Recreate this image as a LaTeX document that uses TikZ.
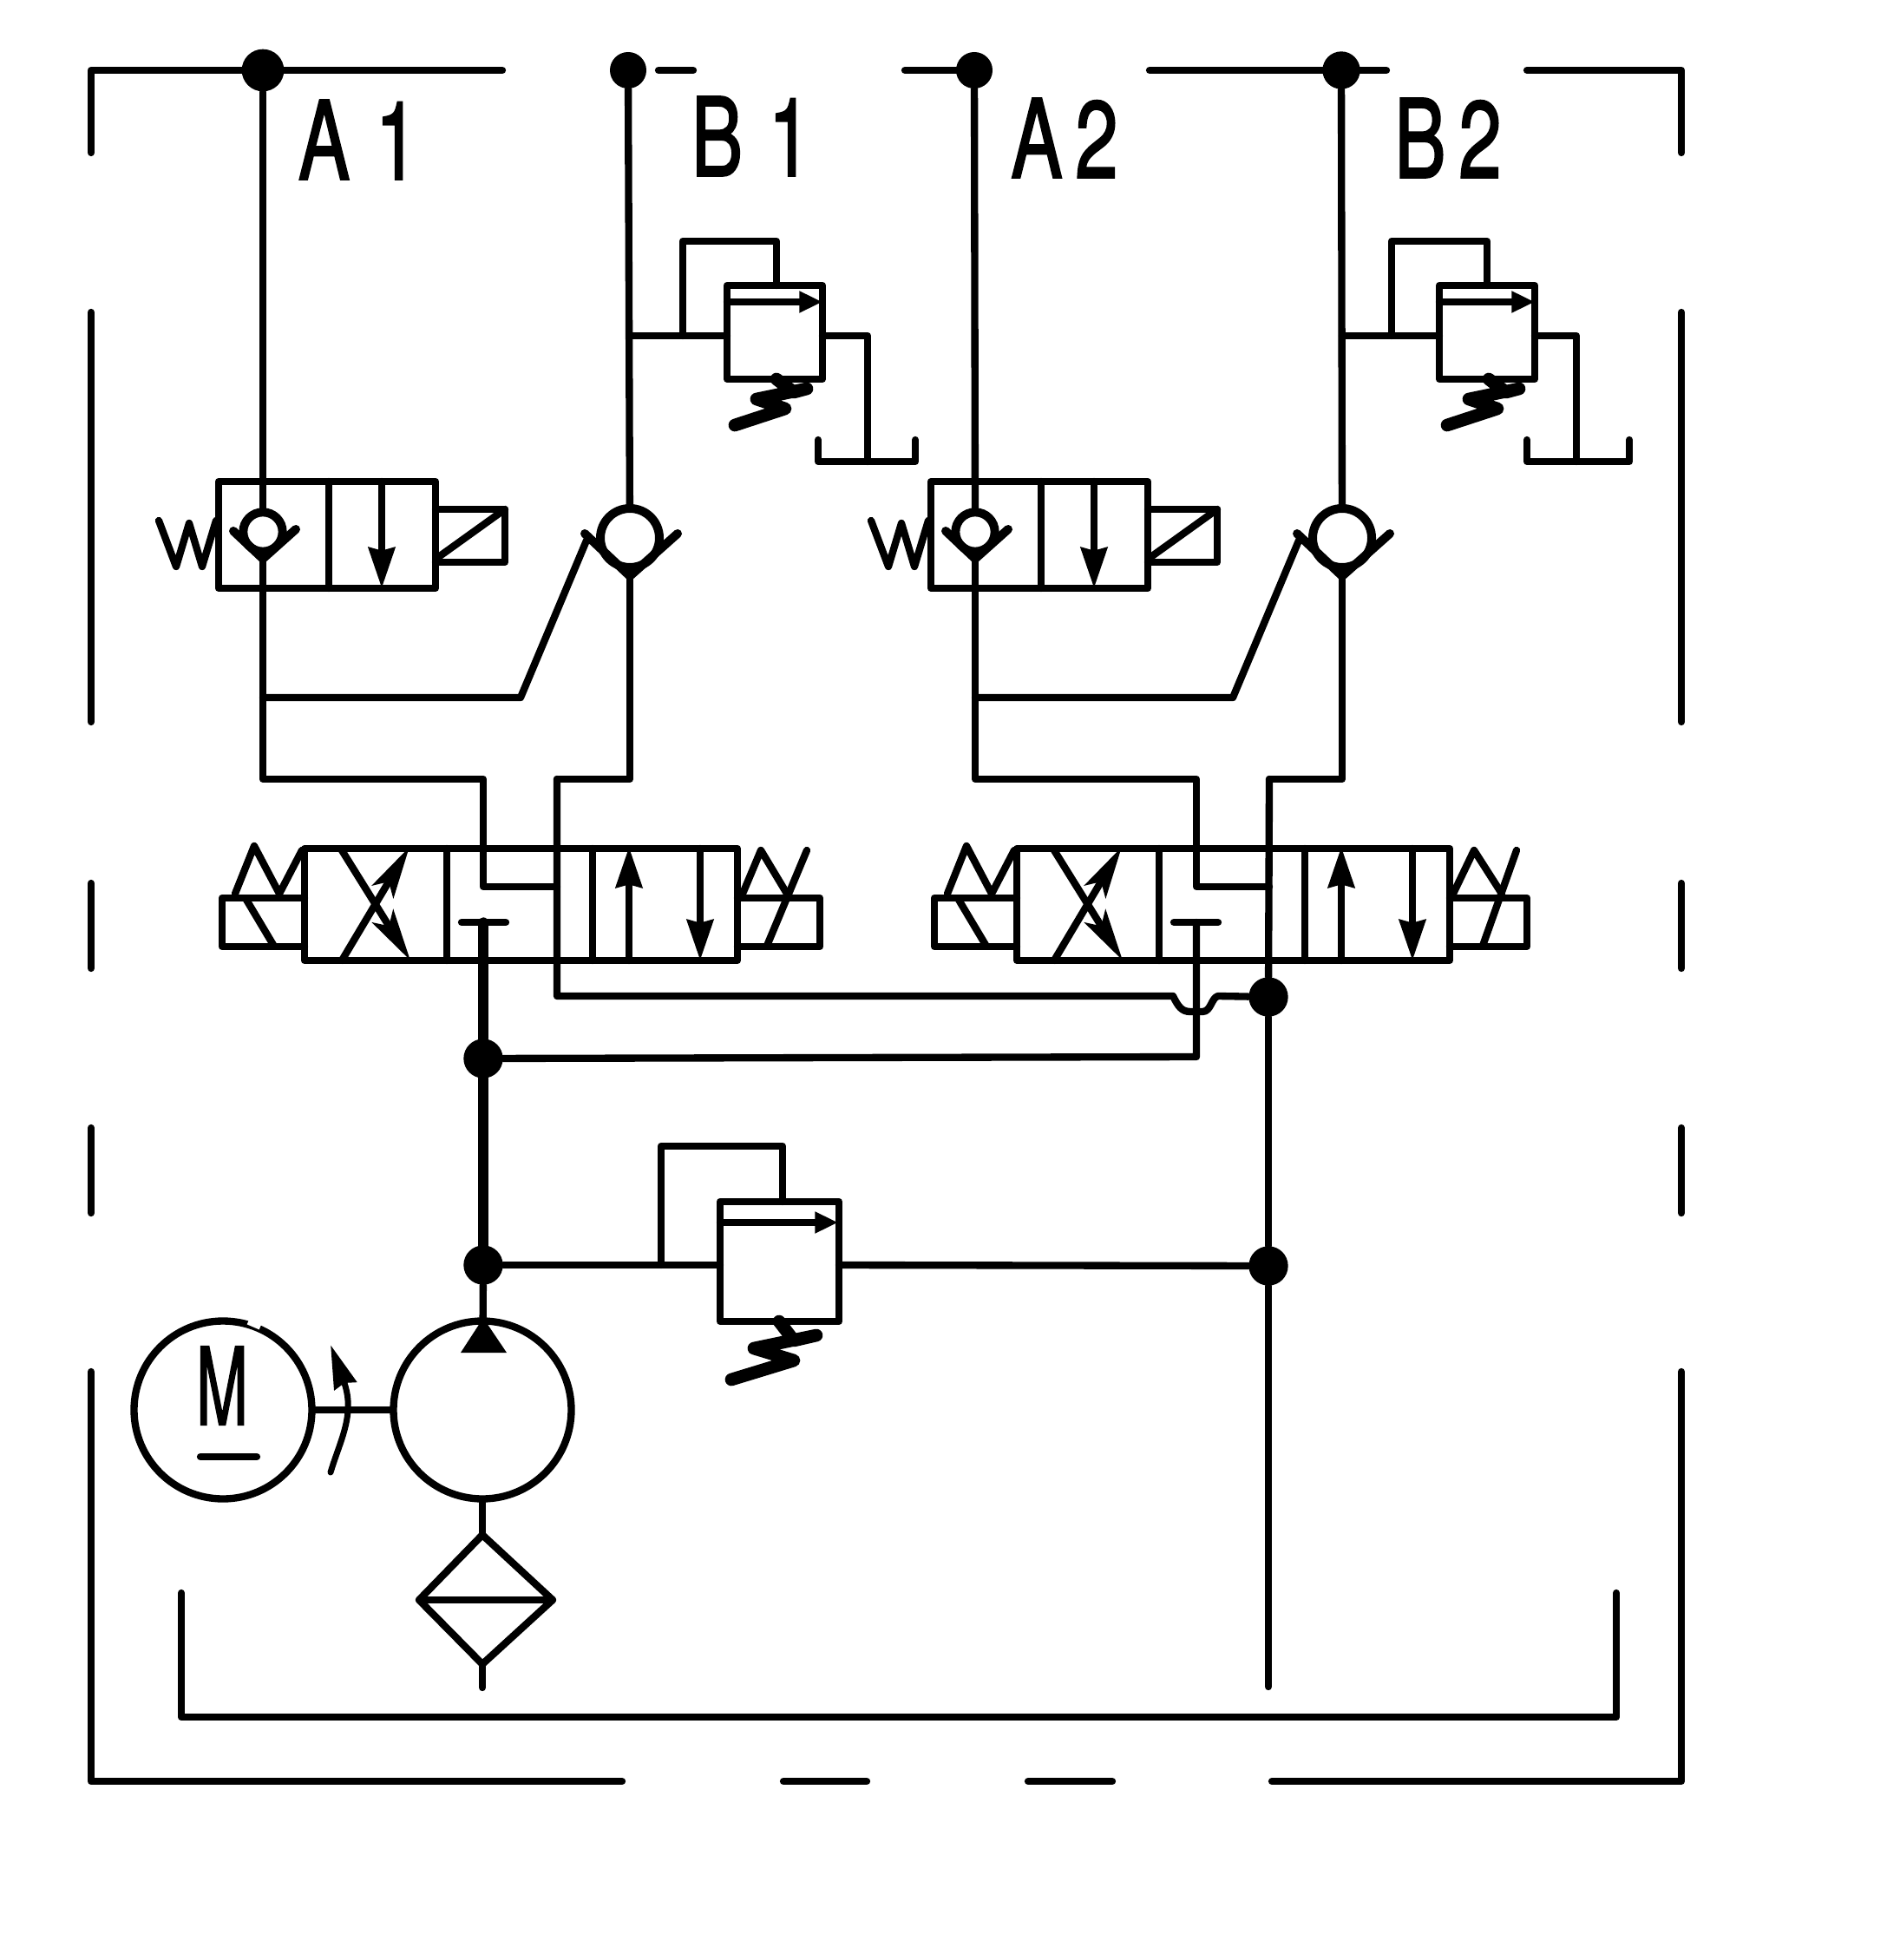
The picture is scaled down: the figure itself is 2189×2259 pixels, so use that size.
\documentclass[tikz,border=0pt]{standalone}
\usepackage{graphicx}
\usepackage{fontspec}
\newfontfamily\labelfont[FakeBold=2]{TeX Gyre Heros}
\usetikzlibrary{arrows.meta, calc}
\tikzset{
  pipe/.style={line width=2.5pt,line cap=round,line join=round},
  thickpipe/.style={line width=3.4pt,line cap=round},
  dot/.style={circle,fill=black,inner sep=0pt,minimum size=13.6pt},
  ballsmall/.style={circle,draw,fill=white,line width=3pt,inner sep=0pt,minimum size=13.6pt},
  ballbig/.style={circle,draw,fill=white,line width=3pt,inner sep=0pt,minimum size=20.4pt},
  seat/.style={line width=3pt,line cap=round,line join=miter},
  bigarrow/.style={pipe,-{Stealth[length=14pt,width=9pt,inset=1pt]}},
  crossarrow/.style={pipe,-{Stealth[length=18pt,width=8.5pt,inset=4pt]}},
  tinyarrow/.style={pipe,-{Stealth[length=8pt,width=7pt,inset=0pt]}},
  spring/.style={line width=4.4pt,line cap=round,line join=round},
  portlabel/.style={inner sep=0pt}
}
\newcommand{\portname}[1]{\scalebox{0.71}[1]{\fontsize{37.5}{38}\labelfont #1}}
\begin{document}
\begin{tikzpicture}[x=0.3pt,y=-0.3pt]
\useasboundingbox (0,0) rectangle (2189,2259);
% frame
\draw[pipe] (105,176) -- (105,81) -- (579,81);
\draw[pipe] (759,81) -- (799,81);
\draw[pipe] (1043,81) -- (1123,81);
\draw[pipe] (1325,81) -- (1598,81);
\draw[pipe] (1760,81) -- (1938,81) -- (1938,176);
\draw[pipe] (105,360) -- (105,832);
\draw[pipe] (105,1018) -- (105,1116);
\draw[pipe] (105,1300) -- (105,1398);
\draw[pipe] (105,1581) -- (105,2053) -- (717,2053);
\draw[pipe] (903,2053) -- (999,2053);
\draw[pipe] (1185,2053) -- (1282,2053);
\draw[pipe] (1466,2053) -- (1938,2053) -- (1938,1581);
\draw[pipe] (1938,1398) -- (1938,1300);
\draw[pipe] (1938,1116) -- (1938,1018);
\draw[pipe] (1938,832) -- (1938,360);
% tank
\draw[pipe] (209,1836) -- (209,1979) -- (1863,1979) -- (1863,1836);
% ports and junctions
\node[dot,minimum size=14.6pt] (a1port) at (303,81) {};
\node[dot,minimum size=12.6pt] (b1port) at (724,81) {};
\node[dot,minimum size=12.6pt] (a2port) at (1123,81) {};
\node[dot,minimum size=13pt] (b2port) at (1546,81) {};
\node[dot] (pj1) at (557,1220) {};
\node[dot] (pj2) at (557,1458) {};
\node[dot] (rj1) at (1462,1149) {};
\node[dot] (rj2) at (1462,1459) {};
\node[portlabel] (a1label) at (413,161) {\portname{A\,\,1}};
\node[portlabel] (b1label) at (866,157) {\portname{B\,\,1}};
\node[portlabel] (a2label) at (1227,159) {\portname{A\,2}};
\node[portlabel] (b2label) at (1669,159) {\portname{B\,2}};
% check valves
\node[ballsmall] (a1ball) at (303,613) {};
\node[ballbig] (b1ball) at (726,620) {};
\node[ballsmall] (a2ball) at (1124,613) {};
\node[ballbig] (b2ball) at (1547,620) {};
\coordinate (a1seat) at (303,644);
\coordinate (b1seat) at (726,664);
\coordinate (a2seat) at (1124,644);
\coordinate (b2seat) at (1547,664);
\draw[seat] (269,612) -- (a1seat) -- (341,610);
\draw[seat] (674,615) -- (b1seat) -- (781,615);
\draw[seat] (1090,612) -- (a2seat) -- (1162,610);
\draw[seat] (1495,615) -- (b2seat) -- (1602,615);
% first directional valves with spring
\draw[pipe] (252,555) rectangle (502,678);
\draw[pipe] (379,555) -- (379,678);
\draw[bigarrow] (440,555) -- (440,678);
\draw[pipe] (502,587) -- (582,587) -- (582,648) -- (502,648);
\draw[pipe] (504,643) -- (582,587);
\draw[pipe] (183,600) -- (203,653) -- (218,603) -- (233,653) -- (249,600);
\draw[pipe] (1073,555) rectangle (1323,678);
\draw[pipe] (1200,555) -- (1200,678);
\draw[bigarrow] (1261,555) -- (1261,678);
\draw[pipe] (1323,587) -- (1403,587) -- (1403,648) -- (1323,648);
\draw[pipe] (1325,643) -- (1403,587);
\draw[pipe] (1004,600) -- (1024,653) -- (1039,603) -- (1054,653) -- (1070,600);
% pressure relief valves
\draw[pipe] (838,329) rectangle (948,437);
\draw[tinyarrow] (838,348) -- (948,348);
\coordinate (b1tee) at (726,387);
\coordinate (b1relief) at (838,387);
\draw[pipe] (b1tee) -- (b1relief);
\draw[pipe] (787,387) -- (787,278) -- (895,278) -- (895,329);
\draw[pipe] (948,387) -- (1000,387) -- (1000,532);
\draw[pipe] (943,507) -- (943,532) -- (1055,532) -- (1055,507);
\draw[spring] (895,437) -- (915,452) -- (930,448) -- (872,460) -- (905,471) -- (847,490);
\draw[pipe] (1659,329) rectangle (1769,437);
\draw[tinyarrow] (1659,348) -- (1769,348);
\coordinate (b2tee) at (1547,387);
\coordinate (b2relief) at (1659,387);
\draw[pipe] (b2tee) -- (b2relief);
\draw[pipe] (1604,387) -- (1604,278) -- (1714,278) -- (1714,329);
\draw[pipe] (1769,387) -- (1817,387) -- (1817,532);
\draw[pipe] (1760,507) -- (1760,532) -- (1878,532) -- (1878,507);
\draw[spring] (1716,437) -- (1736,452) -- (1751,448) -- (1693,460) -- (1726,471) -- (1668,490);
% pipes to the ports
\coordinate (a1elbow) at (303,898);
\coordinate (b1elbow) at (726,898);
\coordinate (a2elbow) at (1124,898);
\coordinate (b2elbow) at (1547,898);
\coordinate (v1a) at (557,898);
\coordinate (v1b) at (642,898);
\coordinate (v2a) at (1379,898);
\coordinate (v2b) at (1463,898);
\draw[pipe] (a1port) -- (a1ball);
\draw[pipe] (b1port) -- (b1ball);
\draw[pipe] (a2port) -- (a2ball);
\draw[pipe] (b2port) -- (b2ball);
\draw[pipe] (a1seat) -- (a1elbow) -- (v1a) -- (557,1022) -- (642,1022);
\draw[pipe] (b1seat) -- (b1elbow) -- (v1b);
\draw[pipe] (a2seat) -- (a2elbow) -- (v2a) -- (1379,1022) -- (1463,1022);
\draw[pipe] (b2seat) -- (b2elbow) -- (v2b);
% pilot lines
\draw[pipe] (303,804) -- (600,804) -- (676,623);
\draw[pipe] (1124,804) -- (1421,804) -- (1497,623);
% 4/3 valve left
\draw[pipe] (351,978) rectangle (850,1107);
\draw[pipe] (515,978) -- (515,1107);
\draw[pipe] (683,978) -- (683,1107);
\draw[crossarrow] (394,980) -- (473,1107);
\draw[crossarrow] (394,1107) -- (472,976);
\draw[pipe] (532,1063) -- (583,1063);
\draw[bigarrow] (725,1107) -- (725,976);
\draw[bigarrow] (807,978) -- (807,1107);
\draw[pipe] (351,1035) -- (256,1035) -- (256,1091) -- (351,1091);
\draw[pipe] (284,1037) -- (315,1089);
\draw[pipe] (271,1030) -- (293,975) -- (322,1030) -- (348,980);
\draw[pipe] (850,1035) -- (945,1035) -- (945,1091) -- (850,1091);
\draw[pipe] (884,1090) -- (930,980);
\draw[pipe] (856,1030) -- (877,980) -- (907,1030);
% 4/3 valve right
\draw[pipe] (1172,978) rectangle (1671,1107);
\draw[pipe] (1336,978) -- (1336,1107);
\draw[pipe] (1504,978) -- (1504,1107);
\draw[crossarrow] (1215,980) -- (1294,1107);
\draw[crossarrow] (1215,1107) -- (1293,976);
\draw[pipe] (1353,1063) -- (1404,1063);
\draw[bigarrow] (1546,1107) -- (1546,976);
\draw[bigarrow] (1628,978) -- (1628,1107);
\draw[pipe] (1172,1035) -- (1077,1035) -- (1077,1091) -- (1172,1091);
\draw[pipe] (1105,1037) -- (1136,1089);
\draw[pipe] (1092,1030) -- (1114,975) -- (1143,1030) -- (1169,980);
\draw[pipe] (1671,1035) -- (1760,1035) -- (1760,1091) -- (1671,1091);
\draw[pipe] (1709,1090) -- (1748,980);
\draw[pipe] (1675,1030) -- (1699,980) -- (1731,1030);
% supply and return
\coordinate (v1t) at (557,1063);
\coordinate (v2t) at (1379,1063);
\coordinate (v1r) at (642,1148);
\coordinate (tankend) at (1462,1944);
\draw[thickpipe] (v1t) -- (pj1);
\draw[thickpipe] (pj1) -- (pj2);
\draw[pipe] (pj1) -- (1379,1218) -- (v2t);
\draw[pipe] (v1b) -- (v1r) -- (1352,1148) .. controls (1358,1160) and (1362,1166) .. (1372,1166) -- (1386,1166) .. controls (1396,1166) and (1396,1150) .. (1404,1148) -- (rj1);
\draw[pipe] (v2b) -- (rj1);
\draw[pipe] (rj1) -- (rj2);
\draw[pipe] (rj2) -- (tankend);
% main relief valve
\draw[pipe] (830,1385) rectangle (967,1523);
\draw[tinyarrow] (830,1409) -- (966,1409);
\draw[pipe] (pj2) -- (830,1458);
\draw[pipe] (762,1458) -- (762,1321) -- (902,1321) -- (902,1385);
\draw[pipe] (967,1458) -- (rj2);
\draw[spring] (898,1523) -- (915,1545) -- (941,1539) -- (869,1554) -- (915,1568) -- (843,1590);
% motor and pump
\node[circle,draw,line width=2.5pt,inner sep=0pt,minimum size=61.5pt] (motor) at (257,1625) {};
\node[circle,draw,line width=2.5pt,inner sep=0pt,minimum size=61.5pt] (pump) at (556,1625) {};
\draw[white,line width=3.5pt] (287,1521) -- (301,1527);
\node[inner sep=0pt] (mlabel) at (256,1597) {\scalebox{0.58}[1]{\fontsize{37}{37}\labelfont M}};
\draw[pipe] (231,1679) -- (296,1679);
\draw[pipe] (motor) -- (pump);
\draw[pipe] (pj2) -- (pump);
\fill (557,1519) -- (584,1559) -- (531,1559) -- cycle;
\draw[line width=2.1pt,line cap=round,-{Stealth[length=15pt,width=8pt,inset=1pt]}] (381,1697) .. controls (392,1660) and (410,1630) .. (381,1550);
% filter
\coordinate (filtertop) at (556,1769);
\coordinate (filterbottom) at (556,1918);
\coordinate (suction) at (556,1945);
\draw[pipe] (pump) -- (filtertop);
\draw[pipe] (filtertop) -- (637,1844) -- (filterbottom) -- (483,1844) -- cycle;
\draw[pipe] (483,1844) -- (637,1844);
\draw[pipe] (filterbottom) -- (suction);
\end{tikzpicture}
\end{document}
